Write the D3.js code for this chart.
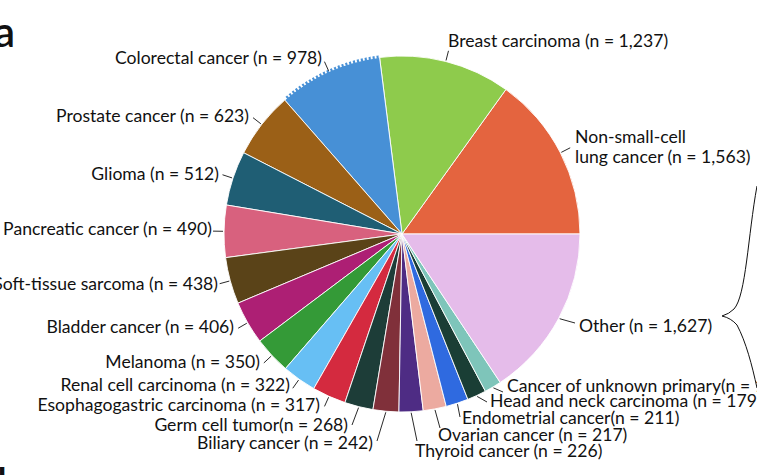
<!DOCTYPE html>
<html><head><meta charset="utf-8">
<script src="https://cdn.jsdelivr.net/npm/d3@7"></script>
<style>
html,body{margin:0;padding:0;background:#fff;overflow:hidden;}
svg{display:block;}
text{font-family:Lato,"Open Sans",sans-serif;fill:#111;}
</style></head>
<body>
<svg id="c" width="757" height="475"></svg>
<script>
// ---- data (counter-clockwise from 3 o'clock) ----
const categories = ["Non-small-cell lung cancer","Breast carcinoma","Colorectal cancer","Prostate cancer","Glioma","Pancreatic cancer","Soft-tissue sarcoma","Bladder cancer","Melanoma","Renal cell carcinoma","Esophagogastric carcinoma","Germ cell tumor","Biliary cancer","Thyroid cancer","Ovarian cancer","Endometrial cancer","Head and neck carcinoma","Cancer of unknown primary","Other"];
const counts = [1563,1237,978,623,512,490,438,406,350,322,317,268,242,226,217,211,179,160,1627];
const labelText = [
  ["Non-small-cell","lung cancer (n = 1,563)"],
  ["Breast carcinoma (n = 1,237)"],
  ["Colorectal cancer (n = 978)"],
  ["Prostate cancer (n = 623)"],
  ["Glioma (n = 512)"],
  ["Pancreatic cancer (n = 490)"],
  ["Soft-tissue sarcoma (n = 438)"],
  ["Bladder cancer (n = 406)"],
  ["Melanoma (n = 350)"],
  ["Renal cell carcinoma (n = 322)"],
  ["Esophagogastric carcinoma (n = 317)"],
  ["Germ cell tumor(n = 268)"],
  ["Biliary cancer (n = 242)"],
  ["Thyroid cancer (n = 226)"],
  ["Ovarian cancer (n = 217)"],
  ["Endometrial cancer(n = 211)"],
  ["Head and neck carcinoma (n = 179)"],
  ["Cancer of unknown primary(n = 160)"],
  ["Other (n = 1,627)"]
];
const colors = ["#E4643F","#8ECB4C","#4790D6","#9B6017","#1F5E74","#D8617E","#5A4318","#AD1F74","#349A37","#67BFF4","#D42A3F","#1D3D38","#80303A","#4E2C84","#ECAAA0","#2F6AE0","#1A3E35","#7EC5BA","#E5BCEA"];

// ---- layout ----
const cx = 402, cy = 234, R = 178;
// text anchor [x, baseline y, anchor]; leader end [x,y] (null -> radial)
const labelLayout = [
  {t:[575,143,"start"], l:null},
  {t:[448,47,"start"], l:null},
  {t:[322,64,"end"], l:null},
  {t:[249,122,"end"], l:null},
  {t:[219,180,"end"], l:null},
  {t:[212,235,"end"], l:null},
  {t:[218,290,"end"], l:null},
  {t:[234,333,"end"], l:null},
  {t:[260,368,"end"], l:null},
  {t:[290,391,"end"], l:null},
  {t:[320,411,"end"], l:null},
  {t:[348,431,"end"], l:[352,425]},
  {t:[373,449,"end"], l:[377,441]},
  {t:[415,457,"start"], l:[417,441]},
  {t:[438,441,"start"], l:[440,428]},
  {t:[462,424,"start"], l:[460,417]},
  {t:[490,407,"start"], l:[487,402]},
  {t:[507,392,"start"], l:[503,392]},
  {t:[579,332,"start"], l:[575,323]}
];

const svg = d3.select("#c");
const g = svg.append("g").attr("transform",`translate(${cx},${cy})`);

const pie = d3.pie().sort(null).value(d=>d)
  .startAngle(Math.PI/2).endAngle(Math.PI/2 - 2*Math.PI);
const arcs = pie(counts);
const arc = d3.arc().innerRadius(0).outerRadius(R);

g.selectAll("path.slice").data(arcs).join("path")
  .attr("class","slice")
  .attr("d",arc)
  .attr("fill",(d,i)=>colors[i])
  .attr("stroke","#fff")
  .attr("stroke-width",0.9)
  .attr("stroke-linejoin","round");

// jagged rim on colorectal slice
const cr = arcs[2];
g.append("path")
  .attr("d", d3.arc().innerRadius(R+0.5).outerRadius(R+0.5)({startAngle:cr.startAngle-0.005,endAngle:cr.endAngle+0.01}))
  .attr("fill","none").attr("stroke",colors[2]).attr("stroke-width",3).attr("stroke-dasharray","2,2");

// leaders + labels
const fs = 17.6;
arcs.forEach((a,i)=>{
  const mid = (a.startAngle+a.endAngle)/2;
  const p0 = [cx + Math.sin(mid)*(R+1), cy - Math.cos(mid)*(R+1)];
  const lay = labelLayout[i];
  const p1 = lay.l ? lay.l : [cx + Math.sin(mid)*(R+11), cy - Math.cos(mid)*(R+11)];
  svg.append("line").attr("x1",p0[0]).attr("y1",p0[1]).attr("x2",p1[0]).attr("y2",p1[1])
    .attr("stroke","#111").attr("stroke-width",0.9);
  const t = svg.append("text").attr("x",lay.t[0]).attr("y",lay.t[1])
    .attr("text-anchor",lay.t[2]).attr("font-size",fs);
  labelText[i].forEach((s,j)=>{
    t.append("tspan").attr("x",lay.t[0]).attr("dy", j===0?0:20).text(s);
  });
});

// curly brace at right edge
svg.append("path")
  .attr("d","M757,186 C748,235 746,296 734,309 Q729,314 722,316 Q731,318 737,325 C746,342 752,365 757,388")
  .attr("fill","none").attr("stroke","#111").attr("stroke-width",1);

// panel letters
svg.append("text").attr("x",-6).attr("y",47).attr("font-size",42).attr("font-weight",600).text("a");
svg.append("text").attr("x",-3).attr("y",498).attr("font-size",42).attr("font-weight",600).text("b");
</script>
</body></html>
